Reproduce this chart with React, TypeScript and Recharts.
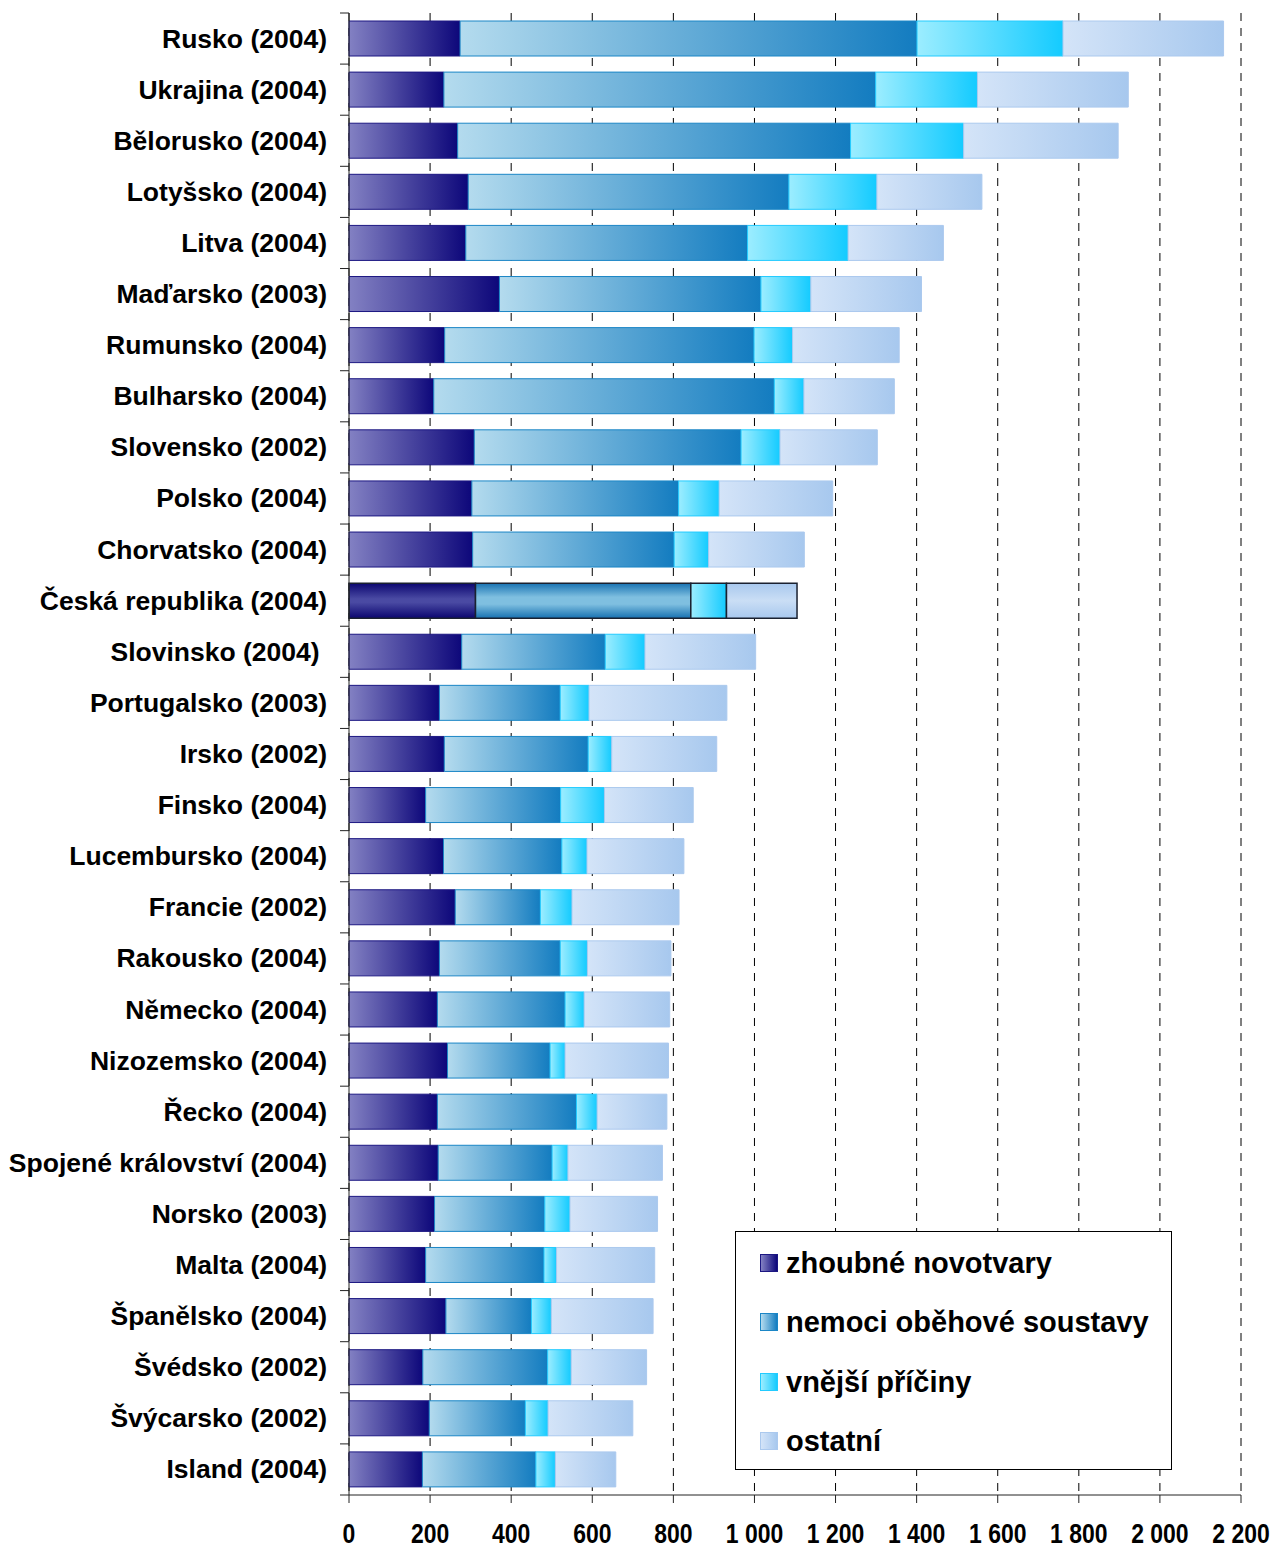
import { BarChart, Bar, XAxis, YAxis, CartesianGrid, Cell, Legend } from 'recharts'

// deaths per 100 000 by cause, country (year)
const categories = [
	'Rusko (2004)',
	'Ukrajina (2004)',
	'Bělorusko (2004)',
	'Lotyšsko (2004)',
	'Litva (2004)',
	'Maďarsko (2003)',
	'Rumunsko (2004)',
	'Bulharsko (2004)',
	'Slovensko (2002)',
	'Polsko (2004)',
	'Chorvatsko (2004)',
	'Česká republika (2004)',
	'Slovinsko (2004) ',
	'Portugalsko (2003)',
	'Irsko (2002)',
	'Finsko (2004)',
	'Lucembursko (2004)',
	'Francie (2002)',
	'Rakousko (2004)',
	'Německo (2004)',
	'Nizozemsko (2004)',
	'Řecko (2004)',
	'Spojené království (2004)',
	'Norsko (2003)',
	'Malta (2004)',
	'Španělsko (2004)',
	'Švédsko (2002)',
	'Švýcarsko (2002)',
	'Island (2004)',
]

const zhoubne = [274, 234, 268, 294, 288, 371, 236, 209, 309, 303, 305, 312, 278, 223, 235, 189, 233, 262, 223, 218, 243, 218, 220, 211, 189, 239, 182, 198, 181]
const obehove = [1127, 1065, 969, 791, 695, 645, 763, 840, 658, 510, 497, 531, 354, 298, 355, 333, 292, 210, 298, 315, 253, 343, 281, 272, 292, 211, 308, 237, 280]
const vnejsi = [360, 251, 279, 217, 248, 123, 95, 73, 96, 100, 85, 88, 98, 71, 58, 108, 62, 78, 67, 47, 37, 51, 39, 62, 31, 49, 58, 56, 48]
const ostatni = [396, 372, 381, 259, 235, 273, 263, 223, 240, 280, 236, 174, 273, 340, 259, 219, 239, 264, 206, 211, 255, 172, 233, 216, 242, 251, 186, 209, 149]

const xTicks = [0, 200, 400, 600, 800, 1000, 1200, 1400, 1600, 1800, 2000, 2200]

const HIGHLIGHT = 'Česká republika (2004)'

const W = 1277
const H = 1547
const PLOT_LEFT = 349
const PLOT_TOP = 13
const PLOT_BOTTOM = 1495
const BAND = (PLOT_BOTTOM - PLOT_TOP) / categories.length
const FONT = '"Liberation Sans", Arial, sans-serif'

const data = categories.map((name, i) => ({
	name,
	zhoubne: zhoubne[i],
	obehove: obehove[i],
	vnejsi: vnejsi[i],
	ostatni: ostatni[i],
}))

const series = [
	{ key: 'zhoubne', label: 'zhoubné novotvary', grad: 'gZ', hi: 'gZc', stroke: '#1c1782', from: '#8381c3', to: '#0d077a' },
	{ key: 'obehove', label: 'nemoci oběhové soustavy', grad: 'gO', hi: 'gOc', stroke: '#1b86c6', from: '#b4dbee', to: '#137cc0' },
	{ key: 'vnejsi', label: 'vnější příčiny', grad: 'gV', hi: 'gV', stroke: '#23cbff', from: '#9cedff', to: '#14cbff' },
	{ key: 'ostatni', label: 'ostatní', grad: 'gS', hi: 'gSc', stroke: '#abc9ee', from: '#d4e4f8', to: '#a7c8ee' },
]

const fmt = (v: number) =>
	v >= 1000 ? `${Math.floor(v / 1000)} ${String(v % 1000).padStart(3, '0')}` : String(v)

function CategoryTick({ y, payload, index }: any) {
	const top = y - BAND / 2
	return (
		<g>
			<line x1={PLOT_LEFT - 9} x2={PLOT_LEFT} y1={top} y2={top} stroke='#222' />
			{index === categories.length - 1 && (
				<line x1={PLOT_LEFT - 9} x2={PLOT_LEFT} y1={y + BAND / 2} y2={y + BAND / 2} stroke='#222' />
			)}
			<text
				x={327}
				y={y}
				dy={9}
				textAnchor='end'
				fontSize={26.5}
				fontWeight='bold'
				fontFamily={FONT}
				fill='#000'
				style={{ whiteSpace: 'pre' }}
			>
				{payload.value}
			</text>
		</g>
	)
}

function ValueTick({ x, payload }: any) {
	return (
		<g transform={`translate(${x},${PLOT_BOTTOM})`}>
			<line x1={0} x2={0} y1={0} y2={8} stroke='#222' />
			<text
				transform='translate(0,48) scale(0.82,1)'
				textAnchor='middle'
				fontSize={28}
				fontWeight='bold'
				fontFamily={FONT}
				fill='#000'
			>
				{fmt(payload.value)}
			</text>
		</g>
	)
}

function LegendBox() {
	return (
		<div style={{ position: 'relative', width: '100%', height: '100%' }}>
			{series.map((s, i) => (
				<div
					key={s.key}
					style={{
						position: 'absolute',
						left: 24,
						top: 31 + i * 59.3 - 20,
						height: 40,
						display: 'flex',
						alignItems: 'center',
						whiteSpace: 'nowrap',
					}}
				>
					<div
						style={{
							width: 18,
							height: 18,
							boxSizing: 'border-box',
							border: `1px solid ${s.stroke}`,
							background: `linear-gradient(to right, ${s.from}, ${s.to})`,
							marginRight: 8,
						}}
					/>
					<span style={{ fontFamily: FONT, fontWeight: 'bold', fontSize: 29, color: '#000', lineHeight: '40px' }}>
						{s.label}
					</span>
				</div>
			))}
		</div>
	)
}

export default function App() {
	return (
		<div style={{ position: 'absolute', left: 0, top: 0, width: W, height: H, background: '#fff' }}>
			<BarChart
				width={W}
				height={H}
				data={data}
				layout='vertical'
				barSize={35}
				margin={{ top: PLOT_TOP, right: W - 1241, bottom: 0, left: 0 }}
			>
				<defs>
					{series.map((s) => (
						<linearGradient key={s.grad} id={s.grad} x1='0' y1='0' x2='1' y2='0'>
							<stop offset='0' stopColor={s.from} />
							<stop offset='1' stopColor={s.to} />
						</linearGradient>
					))}
					<linearGradient id='gZc' x1='0' y1='0' x2='0' y2='1'>
						<stop offset='0' stopColor='#0b0670' />
						<stop offset='0.45' stopColor='#4a4aa3' />
						<stop offset='0.55' stopColor='#4a4aa3' />
						<stop offset='1' stopColor='#0b0670' />
					</linearGradient>
					<linearGradient id='gOc' x1='0' y1='0' x2='0' y2='1'>
						<stop offset='0' stopColor='#1872b2' />
						<stop offset='0.4' stopColor='#7fbfe0' />
						<stop offset='0.6' stopColor='#7fbfe0' />
						<stop offset='1' stopColor='#1872b2' />
					</linearGradient>
					<linearGradient id='gSc' x1='0' y1='0' x2='0' y2='1'>
						<stop offset='0' stopColor='#a8c8ee' />
						<stop offset='0.5' stopColor='#cadef5' />
						<stop offset='1' stopColor='#a8c8ee' />
					</linearGradient>
				</defs>
				<CartesianGrid horizontal={false} stroke='#000' strokeDasharray='8 7' />
				<XAxis
					type='number'
					domain={[0, 2200]}
					ticks={xTicks}
					interval={0}
					height={H - PLOT_BOTTOM}
					tick={<ValueTick />}
					tickLine={false}
					axisLine={{ stroke: '#222' }}
				/>
				<XAxis
					xAxisId='top'
					orientation='top'
					type='number'
					domain={[0, 2200]}
					height={0}
					tick={false}
					tickLine={false}
					axisLine={{ stroke: '#222' }}
				/>
				<YAxis
					type='category'
					dataKey='name'
					width={PLOT_LEFT}
					interval={0}
					tick={<CategoryTick />}
					tickLine={false}
					axisLine={{ stroke: '#222' }}
				/>
				<YAxis
					yAxisId='right'
					orientation='right'
					type='category'
					dataKey='name'
					width={0}
					tick={false}
					tickLine={false}
					axisLine={{ stroke: '#222' }}
				/>
				{series.map((s) => (
					<Bar
						key={s.key}
						dataKey={s.key}
						name={s.label}
						stackId='a'
						fill={`url(#${s.grad})`}
						isAnimationActive={false}
					>
						{data.map((d) => {
							const hi = d.name === HIGHLIGHT
							return (
								<Cell
									key={d.name}
									fill={`url(#${hi ? s.hi : s.grad})`}
									stroke={hi ? '#1a2130' : s.stroke}
									strokeWidth={hi ? 1.5 : 1}
								/>
							)
						})}
					</Bar>
				))}
				<Legend
					layout='vertical'
					align='center'
					verticalAlign='middle'
					content={<LegendBox />}
					wrapperStyle={{
						left: 735,
						top: 1231,
						width: 437,
						height: 239,
						border: '1px solid #000',
						background: '#fff',
						boxSizing: 'border-box',
					}}
				/>
			</BarChart>
		</div>
	)
}
